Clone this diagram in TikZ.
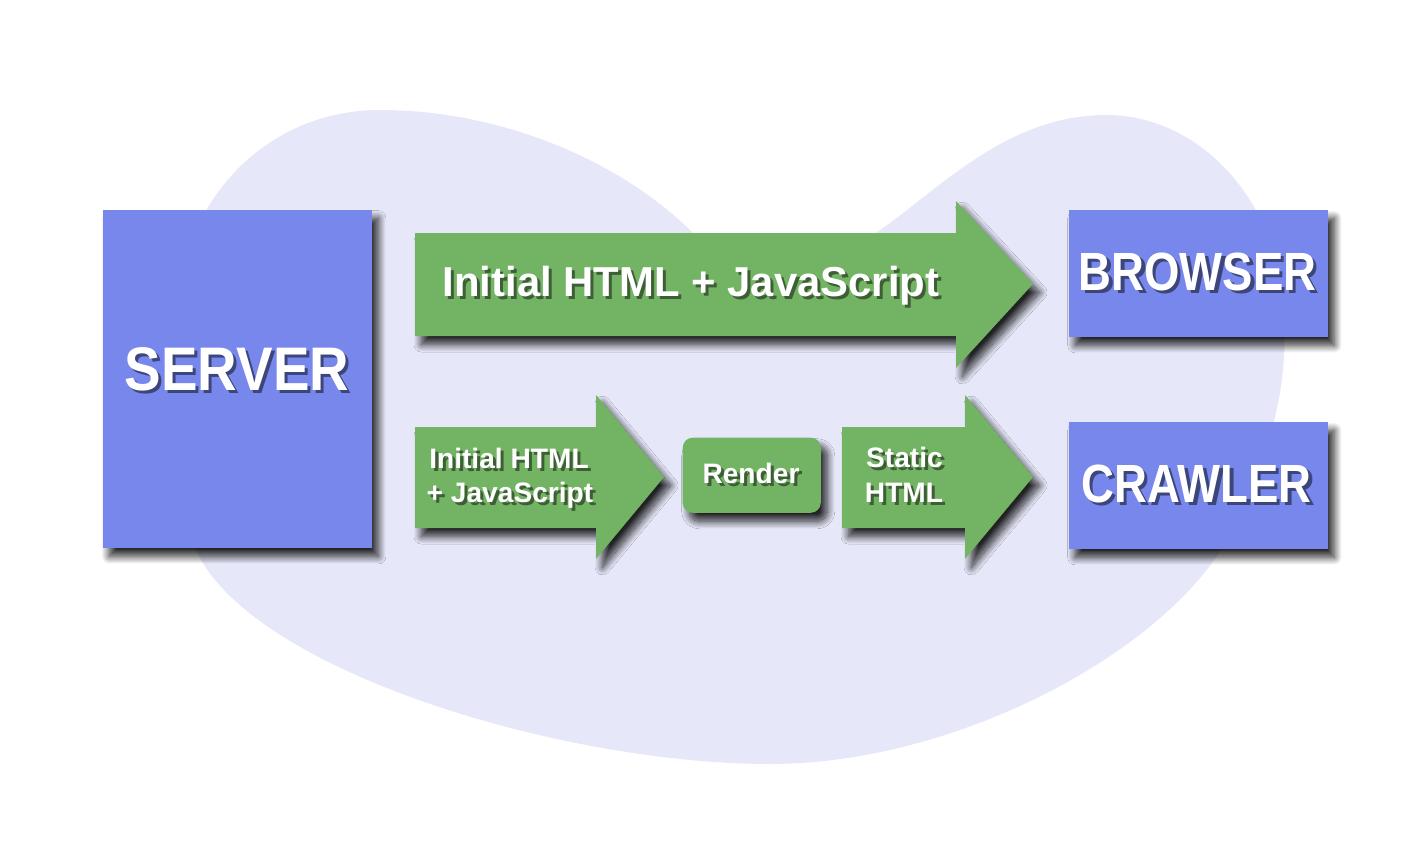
\documentclass[tikz,border=0pt]{standalone}
\usepackage{fontspec}
\usepackage{graphicx}
\setmainfont{Liberation Sans}
\usetikzlibrary{shadows.blur}
\definecolor{boxblue}{HTML}{7787EC}
\definecolor{arrgreen}{HTML}{72B463}
\definecolor{blobc}{HTML}{E6E8F9}
\definecolor{tshblue}{HTML}{3D467A}
\definecolor{tshgreen}{HTML}{3E5E36}
\tikzset{
  dshadow/.style={blur shadow={shadow xshift=0.065cm, shadow yshift=-0.085cm, shadow blur radius=0.075cm, shadow opacity=85, shadow blur steps=16}},
  bluebox/.style={fill=boxblue, dshadow, inner sep=0pt, anchor=north west},
  greenshape/.style={fill=arrgreen, dshadow},
  wtxt/.style={text=white, inner sep=0pt, anchor=base},
  shtxt/.style={text=#1, inner sep=0pt, anchor=base},
  hugefont/.style={font=\fontsize{17.5pt}{20pt}\selectfont\bfseries},
  capfont/.style={font=\fontsize{15.3pt}{18pt}\selectfont\bfseries},
  arrfont/.style={font=\fontsize{11.9pt}{14pt}\selectfont\bfseries},
  smallfont/.style={font=\fontsize{8pt}{10pt}\selectfont\bfseries},
}
\begin{document}
\begin{tikzpicture}[x=0.01cm, y=-0.01cm]
\useasboundingbox (0,0) rectangle (1426,857);
% background blob
\fill[blobc] (196,550)
  .. controls (250,670) and (560,764) .. (770,764)
  .. controls (950,764) and (1150,660) .. (1221,550)
  .. controls (1275,450) and (1290,380) .. (1283,300)
  .. controls (1275,200) and (1200,115) .. (1106,115)
  .. controls (1000,115) and (930,200) .. (865,240)
  .. controls (830,265) and (730,265) .. (693,233)
  .. controls (620,160) and (500,110) .. (380,110)
  .. controls (280,110) and (200,180) .. (180,280)
  .. controls (160,400) and (170,480) .. (196,550) -- cycle;
% boxes
\node[bluebox, minimum width=2.69cm, minimum height=3.38cm] (server) at (102,209) {};
\node[bluebox, minimum width=2.59cm, minimum height=1.27cm] (browser) at (1068,209) {};
\node[bluebox, minimum width=2.59cm, minimum height=1.27cm] (crawler) at (1068,421) {};
% arrows
\fill[greenshape] (415,233) -- (956,233) -- (956,201) -- (1033,284) -- (956,368) -- (956,336) -- (415,336) -- cycle;
\fill[greenshape] (415,427) -- (596,427) -- (596,395) -- (664,477) -- (596,559) -- (596,528) -- (415,528) -- cycle;
\fill[greenshape] (842,427) -- (965,427) -- (965,395) -- (1033,477) -- (965,559) -- (965,528) -- (842,528) -- cycle;
\node[fill=arrgreen, dshadow, rounded corners=0.1cm, minimum width=1.38cm, minimum height=0.75cm, inner sep=0pt, anchor=north west] (render) at (682,437) {};
% texts
\node[shtxt=tshblue, hugefont] (serversh) at (240,393) {\scalebox{0.89}[1]{SERVER}};
\node[wtxt, hugefont] (servert) at (237,390) {\scalebox{0.89}[1]{SERVER}};
\node[shtxt=tshblue, capfont] (browsersh) at (1201,293) {\scalebox{0.846}[1]{BROWSER}};
\node[wtxt, capfont] (browsert) at (1197.5,290) {\scalebox{0.846}[1]{BROWSER}};
\node[shtxt=tshblue, capfont] (crawlersh) at (1200,505) {\scalebox{0.846}[1]{CRAWLER}};
\node[wtxt, capfont] (crawlert) at (1196.5,502) {\scalebox{0.846}[1]{CRAWLER}};
\node[shtxt=tshgreen, arrfont] (topsh) at (694,299) {Initial HTML + JavaScript};
\node[wtxt, arrfont] (topt) at (691,296) {Initial HTML + JavaScript};
\node[shtxt=tshgreen, smallfont] (l1sh) at (512,471) {Initial HTML};
\node[wtxt, smallfont] (l1t) at (509,468) {Initial HTML};
\node[shtxt=tshgreen, smallfont] (l2sh) at (513,505) {+ JavaScript};
\node[wtxt, smallfont] (l2t) at (510,502) {+ JavaScript};
\node[shtxt=tshgreen, smallfont] (rendersh) at (754,486) {Render};
\node[wtxt, smallfont] (rendert) at (751,483) {Render};
\node[shtxt=tshgreen, smallfont] (r1sh) at (907.5,470) {Static};
\node[wtxt, smallfont] (r1t) at (904.5,467) {Static};
\node[shtxt=tshgreen, smallfont] (r2sh) at (907,505) {HTML};
\node[wtxt, smallfont] (r2t) at (904,502) {HTML};
\end{tikzpicture}
\end{document}
